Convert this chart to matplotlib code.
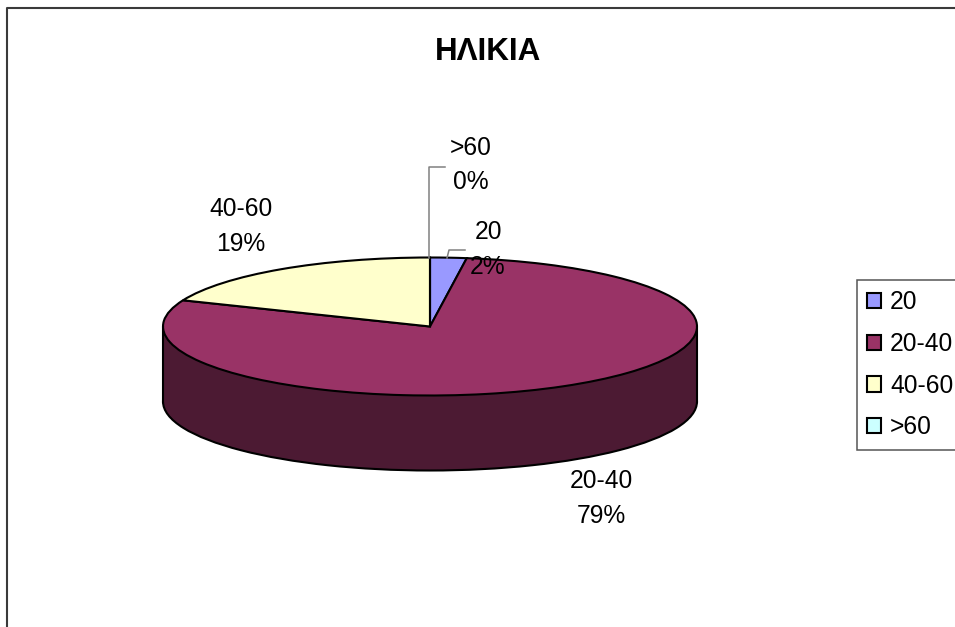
import matplotlib
matplotlib.use("Agg")
import matplotlib.pyplot as plt
from matplotlib.lines import Line2D
from matplotlib.patches import Rectangle
from matplotlib.transforms import Affine2D

plt.rcParams["font.family"] = ["Liberation Sans", "DejaVu Sans"]

# Age groups, share of respondents (%)
categories = ["20", "20-40", "40-60", ">60"]
values = [2.2, 79.0, 18.8, 0.0]
colors = ["#9999FF", "#993366", "#FFFFCC", "#CCFFFF"]
title = "ΗΛΙΚΙΑ"

WIDTH, HEIGHT = 955, 627
CX, CY, RX, RY, DEPTH = 430, 326.5, 267, 69, 75
SIDE = "#4C1A33"
LW = 1.5

fig = plt.figure(figsize=(WIDTH / 100, HEIGHT / 100), dpi=100)
ax = fig.add_axes([0, 0, 1, 1])
px = Affine2D().scale(1, -1).translate(0, HEIGHT)  # image pixels to display

edge = {"edgecolor": "black", "linewidth": LW}
depth = DEPTH / RY

# bottom disc and wall first, top disc over them
ax.pie([1], colors=[SIDE], center=(0, -depth), wedgeprops=edge)
ax.add_patch(Rectangle((-1, -depth), 2, depth, facecolor=SIDE, edgecolor="none"))
ax.plot([-1, -1], [0, -depth], color="black", lw=LW)
ax.plot([1, 1], [0, -depth], color="black", lw=LW)
wedges, _ = ax.pie(values, colors=colors, startangle=90, counterclock=False, wedgeprops=edge)

# squash the unit circle into the tilted ellipse
ax.set_aspect("auto")
ax.set_xlim(-CX / RX, (WIDTH - CX) / RX)
ax.set_ylim((CY - HEIGHT) / RY, CY / RY)

# leader lines
ax.plot([429, 429, 445], [258, 166.5, 166.5], color="#808080", lw=1.1, transform=px)
ax.plot([447, 449, 465], [258, 250, 250], color="#808080", lw=1.1, transform=px)

label_pos = [(488, 249.5), (601, 498.5), (241, 226.5), (471, 165)]
for cat, val, (x, y) in zip(categories, values, label_pos):
    ax.text(x, y, f"{cat}\n{round(val)}%", transform=px, ha="center", va="center",
            fontsize=17.7, linespacing=1.55, zorder=5)

fig.text(488, 52.5, title, transform=px, ha="center", va="center", fontsize=22.6, fontweight="bold")

leg = ax.legend(
    wedges, categories, loc="upper left", bbox_to_anchor=(857 / WIDTH, 1 - 280 / HEIGHT),
    bbox_transform=fig.transFigure, fontsize=17.7, fancybox=False, framealpha=1,
    edgecolor="#555555", borderaxespad=0, borderpad=0.42, labelspacing=0.72,
    handlelength=0.57, handleheight=0.57, handletextpad=0.36,
)
leg.get_frame().set_linewidth(1.1)

# chart frame, runs off the right and bottom of the image
fig.add_artist(Line2D([7, 7, WIDTH + 5], [HEIGHT + 5, 8, 8], color="#3A3A3A", lw=1.5, transform=px))

fig.savefig("out.png", dpi=100)
